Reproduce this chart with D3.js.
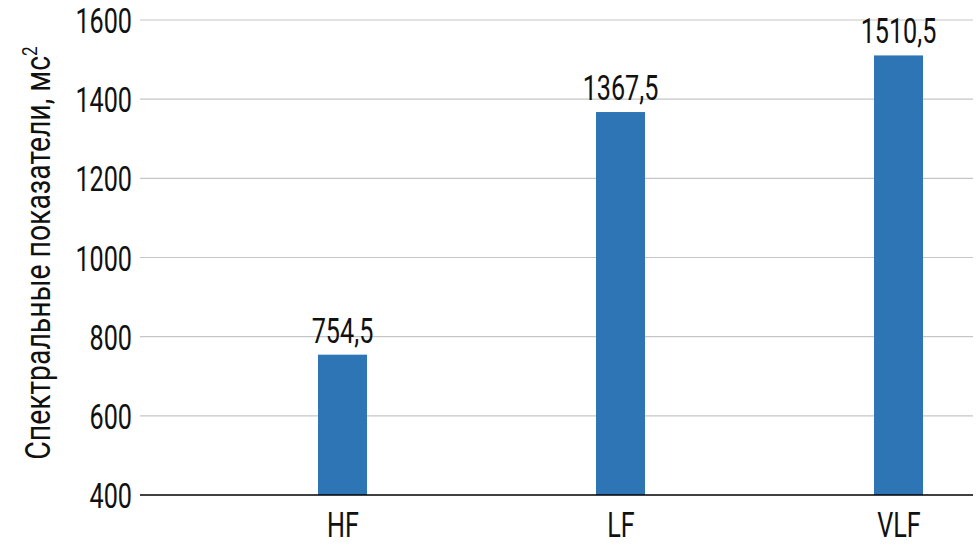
<!DOCTYPE html>
<html><head><meta charset="utf-8">
<script src="https://cdn.jsdelivr.net/npm/d3@7"></script>
<style>body{margin:0;background:#fff;} svg{display:block;}</style>
</head><body>
<script>
const categories = ["HF", "LF", "VLF"];
const values = [754.5, 1367.5, 1510.5];
const valueLabels = ["754,5", "1367,5", "1510,5"];
const yTicks = [400, 600, 800, 1000, 1200, 1400, 1600];
const yTitle = "Спектральные показатели, мс";

const W = 980, H = 547;
const mLeft = 140, mRight = 973, mTop = 20, mBottom = 495;
const SX = 0.72, FS = 35, SXT = 0.81;
const font = "Roboto, 'DejaVu Sans', sans-serif";

const svg = d3.select("body").append("svg").attr("width", W).attr("height", H);

const y = d3.scaleLinear().domain([400, 1600]).range([mBottom, mTop]);
const x = d3.scalePoint().domain(categories).range([342.5, 898.5]);
const barW = 49;

// gridlines
svg.append("g").selectAll("line").data(yTicks.filter(d => d > 400)).join("line")
  .attr("x1", mLeft).attr("x2", mRight)
  .attr("y1", d => y(d)).attr("y2", d => y(d))
  .attr("stroke", "#c6c6c6").attr("stroke-width", 1.2);

// y axis labels
const yAxis = d3.axisLeft(y).tickValues(yTicks).tickFormat(d3.format("d")).tickSize(0).tickPadding(0);
const gy = svg.append("g").attr("transform", `translate(${mLeft},0)`).call(yAxis);
gy.select(".domain").remove();
gy.selectAll("text")
  .attr("font-family", font).attr("font-size", FS).attr("fill", "#111")
  .attr("dy", "0.36em")
  .attr("x", -8 / SX)
  .attr("transform", `scale(${SX},1)`);

// bars
svg.append("g").selectAll("rect").data(values).join("rect")
  .attr("x", (d, i) => x(categories[i]) - barW / 2)
  .attr("width", barW)
  .attr("y", d => y(d))
  .attr("height", d => y(400) - y(d))
  .attr("fill", "#2E75B6");

// value labels
svg.append("g").selectAll("text").data(values).join("text")
  .attr("transform", (d, i) => `translate(${x(categories[i])},${y(d) - 12}) scale(${SX},1)`)
  .attr("text-anchor", "middle")
  .attr("font-family", font).attr("font-size", FS).attr("fill", "#111")
  .text((d, i) => valueLabels[i]);

// x axis line
svg.append("line").attr("x1", mLeft).attr("x2", mRight)
  .attr("y1", y(400)).attr("y2", y(400))
  .attr("stroke", "#000").attr("stroke-width", 1.6);

// x axis labels
const xAxis = d3.axisBottom(x).tickSize(0).tickPadding(0);
const gx = svg.append("g").attr("transform", `translate(0,${mBottom})`).call(xAxis);
gx.select(".domain").remove();
gx.selectAll("text")
  .attr("font-family", font).attr("font-size", FS).attr("fill", "#111")
  .attr("dy", null).attr("y", 42)
  .attr("transform", `scale(${SX},1)`);

// y title
const t = svg.append("text")
  .attr("transform", `translate(50,253) rotate(-90) scale(${SXT},1)`)
  .attr("text-anchor", "middle")
  .attr("font-family", font).attr("font-size", FS).attr("fill", "#111");
t.append("tspan").text(yTitle);
t.append("tspan").attr("font-size", FS * 0.6).attr("dy", -13).text("2");
</script>
</body></html>
